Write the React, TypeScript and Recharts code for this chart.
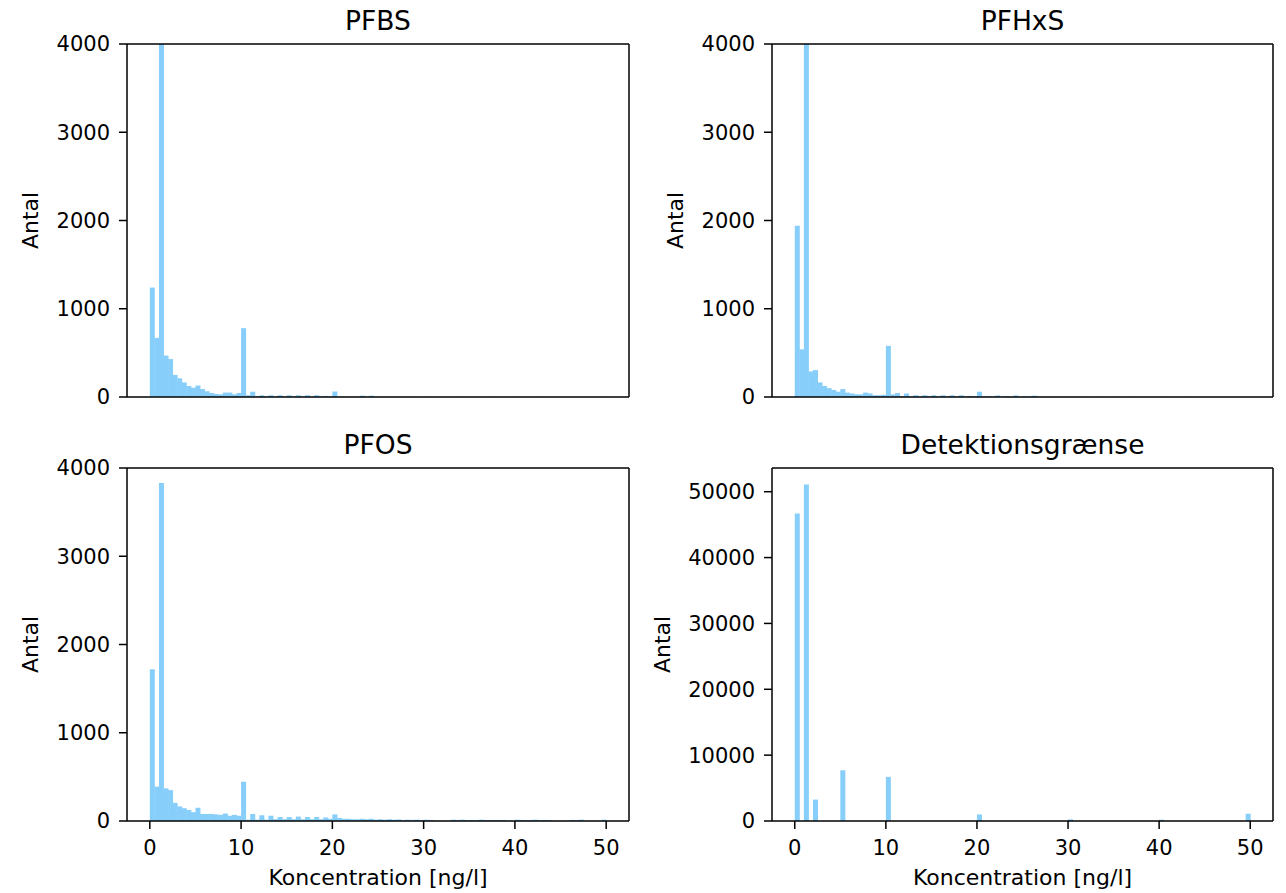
import { BarChart, Bar, XAxis, YAxis } from "recharts";

// histogram bins: 100 bins of 0.5 ng/l from 0 to 50
const BIN_WIDTH = 0.5;
const BIN_CENTERS = Array.from({ length: 100 }, (_, i) => i * BIN_WIDTH + BIN_WIDTH / 2);

const X_TICKS = [0, 10, 20, 30, 40, 50];
const Y_TICKS_SMALL = [0, 1000, 2000, 3000, 4000];
const Y_TICKS_LARGE = [0, 10000, 20000, 30000, 40000, 50000];

const pfbsCounts = [
  1240, 670, 4600, 470, 430, 250, 212, 165, 125, 105,
  130, 90, 65, 45, 35, 30, 50, 50, 30, 45,
  780, 20, 60, 8, 20, 5, 20, 5, 20, 5,
  20, 5, 20, 5, 20, 5, 20, 4, 12, 6,
  62, 4, 5, 3, 3, 2, 15, 2, 15, 2,
  2, 1, 1, 1, 0, 1, 0, 1, 0, 0,
  1, 0, 0, 1, 0, 0, 0, 1, 0, 0,
  1, 0, 0, 0, 1, 0, 0, 0, 0, 0,
  1, 0, 0, 0, 0, 1, 0, 0, 0, 0,
  0, 0, 0, 0, 0, 0, 0, 0, 0, 1,
];

const pfhxsCounts = [
  1940, 540, 4600, 290, 305, 165, 125, 100, 80, 60,
  90, 50, 40, 30, 30, 50, 40, 20, 20, 25,
  580, 30, 45, 8, 40, 5, 20, 5, 20, 5,
  20, 5, 20, 5, 20, 5, 20, 5, 12, 8,
  60, 5, 8, 4, 18, 4, 10, 3, 18, 3,
  8, 2, 15, 2, 3, 1, 2, 1, 1, 1,
  1, 0, 1, 0, 1, 0, 0, 1, 0, 0,
  1, 0, 0, 0, 1, 0, 0, 0, 0, 0,
  1, 0, 0, 0, 0, 0, 1, 0, 0, 0,
  0, 0, 0, 0, 0, 0, 0, 0, 0, 1,
];

const pfosCounts = [
  1720, 390, 3830, 370, 350, 205, 165, 145, 125, 100,
  150, 80, 80, 80, 75, 70, 85, 60, 70, 60,
  445, 15, 80, 15, 65, 15, 60, 20, 45, 20,
  45, 20, 50, 20, 45, 20, 45, 20, 40, 25,
  75, 35, 25, 25, 20, 20, 25, 20, 25, 15,
  20, 15, 20, 15, 18, 12, 15, 12, 15, 10,
  15, 12, 3, 2, 2, 3, 15, 12, 15, 10,
  12, 10, 15, 12, 10, 12, 10, 12, 2, 3,
  15, 12, 10, 12, 15, 10, 12, 10, 2, 1,
  3, 2, 12, 10, 15, 2, 1, 2, 3, 15,
];

const detectionCounts = [
  46700, 0, 51100, 0, 3250, 0, 0, 0, 0, 0,
  7700, 0, 0, 0, 0, 0, 0, 0, 0, 0,
  6700, 0, 0, 0, 0, 0, 0, 0, 0, 0,
  0, 0, 0, 0, 0, 0, 0, 0, 0, 0,
  1000, 0, 0, 0, 0, 0, 0, 0, 0, 0,
  0, 0, 0, 0, 0, 0, 0, 0, 0, 0,
  250, 0, 0, 0, 0, 0, 0, 0, 0, 0,
  0, 0, 0, 0, 0, 0, 0, 0, 0, 0,
  200, 0, 0, 0, 0, 0, 0, 0, 0, 0,
  0, 0, 0, 0, 0, 0, 0, 0, 0, 1100,
];

const FONT = "DejaVu Sans";
const BAR_COLOR = "#87CEFA";
const INK = "#000";

interface PanelProps {
  title: string;
  counts: number[];
  yMax: number;
  yTicks: number[];
  left: number;
  top: number;
  width: number;
  height: number;
  marginRight: number;
  showXLabels: boolean;
  yLabelX: number;
}

function HistPanel({
  title, counts, yMax, yTicks, left, top, width, height, marginRight, showXLabels, yLabelX,
}: PanelProps) {
  const data = BIN_CENTERS.map((x, i) => ({ x, n: counts[i] }));
  const tickStyle = { fill: INK, fontSize: 21, fontFamily: FONT };

  return (
    <div style={{ position: "absolute", left, top, width, height }}>
      <BarChart
        width={width}
        height={height}
        data={data}
        margin={{ top: 43, right: marginRight - 1, left: 0, bottom: 0 }}
        barCategoryGap={0}
        barGap={0}
        style={{ fontFamily: FONT }}
      >
        <XAxis
          dataKey="x"
          type="number"
          domain={[-2.5, 52.5]}
          ticks={X_TICKS}
          allowDataOverflow
          height={showXLabels ? 72 : 43}
          tickSize={8}
          tickMargin={11}
          tick={showXLabels ? tickStyle : false}
          stroke={INK}
          strokeWidth={1.5}
          label={
            showXLabels
              ? {
                  content: ({ viewBox }: any) => (
                    <text
                      x={viewBox.x + viewBox.width / 2}
                      y={viewBox.y + 64}
                      textAnchor="middle"
                      fontSize={22}
                      fontFamily={FONT}
                      fill={INK}
                    >
                      Koncentration [ng/l]
                    </text>
                  ),
                }
              : undefined
          }
        />
        <XAxis
          xAxisId="top"
          dataKey="x"
          type="number"
          orientation="top"
          domain={[-2.5, 52.5]}
          allowDataOverflow
          height={1}
          tick={false}
          tickLine={false}
          stroke={INK}
          strokeWidth={1.5}
          label={{
            content: ({ viewBox }: any) => (
              <text
                x={viewBox.x + viewBox.width / 2}
                y={viewBox.y - 13}
                textAnchor="middle"
                fontSize={26.5}
                fontFamily={FONT}
                fill={INK}
              >
                {title}
              </text>
            ),
          }}
        />
        <YAxis
          type="number"
          domain={[0, yMax]}
          ticks={yTicks}
          allowDataOverflow
          width={127}
          tickSize={8}
          tickMargin={9}
          tick={tickStyle}
          stroke={INK}
          strokeWidth={1.5}
          label={{
            content: ({ viewBox }: any) => {
              const cy = viewBox.y + viewBox.height / 2;
              return (
                <text
                  x={yLabelX}
                  y={cy}
                  transform={`rotate(-90, ${yLabelX}, ${cy})`}
                  textAnchor="middle"
                  fontSize={22}
                  fontFamily={FONT}
                  fill={INK}
                >
                  Antal
                </text>
              );
            },
          }}
        />
        <YAxis
          yAxisId="right"
          orientation="right"
          type="number"
          domain={[0, yMax]}
          width={1}
          tick={false}
          tickLine={false}
          stroke={INK}
          strokeWidth={1.5}
        />
        <Bar dataKey="n" fill={BAR_COLOR} isAnimationActive={false} />
      </BarChart>
    </div>
  );
}

export default function App() {
  return (
    <div
      style={{
        position: "absolute",
        left: 0,
        top: 0,
        width: 1286,
        height: 893,
        background: "#fff",
        fontFamily: FONT,
      }}
    >
      <HistPanel
        title="PFBS"
        counts={pfbsCounts}
        yMax={4000}
        yTicks={Y_TICKS_SMALL}
        left={0}
        top={0}
        width={640}
        height={440}
        marginRight={11}
        showXLabels={false}
        yLabelX={38}
      />
      <HistPanel
        title="PFHxS"
        counts={pfhxsCounts}
        yMax={4000}
        yTicks={Y_TICKS_SMALL}
        left={645}
        top={0}
        width={641}
        height={440}
        marginRight={13}
        showXLabels={false}
        yLabelX={38}
      />
      <HistPanel
        title="PFOS"
        counts={pfosCounts}
        yMax={4000}
        yTicks={Y_TICKS_SMALL}
        left={0}
        top={424}
        width={640}
        height={469}
        marginRight={11}
        showXLabels
        yLabelX={38}
      />
      <HistPanel
        title="Detektionsgrænse"
        counts={detectionCounts}
        yMax={53600}
        yTicks={Y_TICKS_LARGE}
        left={645}
        top={424}
        width={641}
        height={469}
        marginRight={13}
        showXLabels
        yLabelX={25}
      />
    </div>
  );
}
